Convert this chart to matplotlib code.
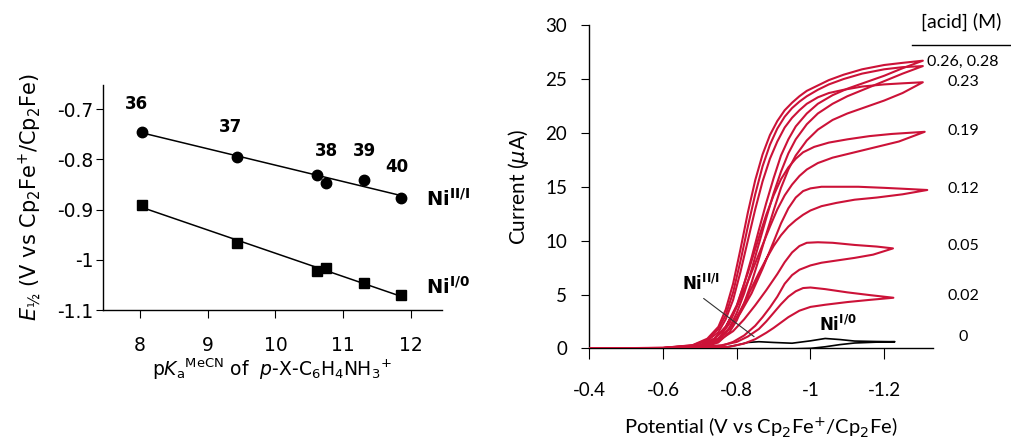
import numpy as np
import matplotlib.pyplot as plt

plt.rcParams['mathtext.fontset'] = 'dejavusans'

# ---- left panel: E1/2 vs pKa ----
pka = [8.03, 9.43, 10.62, 10.75, 11.31, 11.86]
e_nii_i = [-0.745, -0.795, -0.831, -0.846, -0.841, -0.876]
e_ni_i0 = [-0.891, -0.967, -1.022, -1.017, -1.047, -1.070]
cmpd_labels = ['36', '37', '38', '39', '40']
cmpd_x = [7.95, 9.34, 10.75, 11.32, 11.79]
cmpd_y = [-0.689, -0.735, -0.784, -0.784, -0.815]
left_yticks = [-0.7, -0.8, -0.9, -1.0, -1.1]
left_yticklabels = ['-0.7', '-0.8', '-0.9', '-1', '-1.1']

# ---- right panel: CVs (forward sweep then return sweep) ----
v_fwd_hi = [-0.40, -0.60, -0.68, -0.72, -0.75, -0.77, -0.79, -0.81, -0.83, -0.85, -0.87, -0.89,
            -0.91, -0.93, -0.95, -0.97, -0.99, -1.02, -1.05, -1.09, -1.14, -1.20, -1.25, -1.305]
v_rev_hi = [-1.305, -1.25, -1.20, -1.15, -1.10, -1.06, -1.02, -0.99, -0.96, -0.94, -0.92, -0.90,
            -0.88, -0.86, -0.84, -0.82, -0.80, -0.78, -0.75, -0.72, -0.68, -0.60, -0.40]
i28_fwd = [0, 0.05, 0.3, 0.9, 2.0, 3.6, 6.0, 9.2, 12.6, 15.6, 18.0, 19.8,
           21.1, 22.1, 22.8, 23.4, 23.9, 24.4, 24.9, 25.4, 25.9, 26.3, 26.5, 26.7]
i28_rev = [26.7, 26.0, 25.3, 24.7, 24.1, 23.5, 22.7, 21.8, 20.6, 19.4, 17.9, 15.8,
           13.5, 11.0, 8.4, 6.0, 3.9, 2.3, 0.9, 0.35, 0.12, 0.03, 0.0]
i26_fwd = [0, 0.05, 0.28, 0.8, 1.8, 3.1, 5.2, 8.1, 11.3, 14.3, 16.9, 18.9,
           20.4, 21.5, 22.3, 22.9, 23.4, 24.0, 24.5, 25.0, 25.5, 25.9, 26.1, 26.2]
i26_rev = [26.2, 25.5, 24.8, 24.1, 23.4, 22.7, 21.8, 20.8, 19.4, 18.1, 16.4, 14.4,
           12.1, 9.7, 7.3, 5.1, 3.3, 1.9, 0.75, 0.3, 0.1, 0.03, 0.0]
i23_fwd = [0, 0.04, 0.25, 0.7, 1.5, 2.7, 4.5, 7.1, 10.0, 12.9, 15.5, 17.6,
           19.2, 20.5, 21.4, 22.1, 22.7, 23.3, 23.7, 24.0, 24.3, 24.5, 24.6, 24.7]
i23_rev = [24.7, 23.7, 23.0, 22.4, 21.8, 21.2, 20.3, 19.3, 17.9, 16.6, 14.9, 12.8,
           10.6, 8.3, 6.1, 4.2, 2.6, 1.5, 0.55, 0.22, 0.08, 0.02, 0.0]

v19_fwd = [-0.40, -0.60, -0.70, -0.74, -0.77, -0.80, -0.83, -0.86, -0.88, -0.90,
           -0.92, -0.94, -0.96, -0.98, -1.01, -1.05, -1.10, -1.16, -1.22, -1.31]
i19_fwd = [0, 0.04, 0.3, 0.9, 2.0, 4.0, 7.0, 10.3, 12.4, 14.2,
           15.7, 16.8, 17.6, 18.2, 18.7, 19.1, 19.4, 19.7, 19.9, 20.1]
v19_rev = [-1.31, -1.24, -1.18, -1.12, -1.06, -1.02, -0.99, -0.97, -0.95, -0.93, -0.91,
           -0.89, -0.87, -0.85, -0.83, -0.81, -0.79, -0.77, -0.74, -0.70, -0.60, -0.40]
i19_rev = [20.1, 19.2, 18.7, 18.2, 17.7, 17.2, 16.6, 16.0, 15.2, 14.2, 12.9,
           11.3, 9.6, 7.9, 6.2, 4.6, 3.2, 2.0, 0.9, 0.15, 0.02, 0.0]

v12_fwd = [-0.40, -0.60, -0.70, -0.75, -0.78, -0.81, -0.84, -0.87, -0.90, -0.92,
           -0.94, -0.96, -0.98, -1.00, -1.03, -1.07, -1.13, -1.20, -1.26, -1.317]
i12_fwd = [0, 0.03, 0.25, 0.9, 1.8, 3.3, 5.1, 7.4, 9.9, 11.6,
           13.0, 14.0, 14.6, 14.85, 15.0, 15.0, 15.0, 14.9, 14.8, 14.7]
v12_rev = [-1.317, -1.25, -1.18, -1.12, -1.07, -1.03, -1.00, -0.98, -0.96, -0.94, -0.92,
           -0.90, -0.88, -0.86, -0.84, -0.82, -0.80, -0.77, -0.73, -0.65, -0.40]
i12_rev = [14.7, 14.3, 14.0, 13.8, 13.5, 13.2, 12.8, 12.4, 11.9, 11.3, 10.5,
           9.5, 8.3, 7.0, 5.6, 4.2, 2.9, 1.4, 0.35, 0.03, 0.0]

v05_fwd = [-0.40, -0.60, -0.70, -0.75, -0.79, -0.82, -0.85, -0.88, -0.91,
           -0.93, -0.95, -0.97, -0.99, -1.02, -1.06, -1.12, -1.18, -1.224]
i05_fwd = [0, 0.03, 0.2, 0.7, 1.6, 2.7, 4.0, 5.4, 6.9,
           8.0, 8.9, 9.5, 9.8, 9.85, 9.8, 9.6, 9.45, 9.28]
v05_rev = [-1.224, -1.17, -1.12, -1.07, -1.03, -1.00, -0.97, -0.95, -0.93, -0.91,
           -0.89, -0.87, -0.85, -0.82, -0.79, -0.76, -0.72, -0.65, -0.40]
i05_rev = [9.28, 8.7, 8.4, 8.15, 7.95, 7.7, 7.3, 6.8, 6.0, 4.8,
           3.8, 2.9, 2.1, 1.2, 0.6, 0.25, 0.08, 0.02, 0.0]

v02_fwd = [-0.40, -0.60, -0.70, -0.76, -0.80, -0.83, -0.86, -0.88, -0.90,
           -0.92, -0.94, -0.96, -0.98, -1.00, -1.04, -1.10, -1.16, -1.225]
i02_fwd = [0, 0.02, 0.12, 0.3, 0.6, 1.1, 1.8, 2.5, 3.3,
           4.1, 4.8, 5.3, 5.6, 5.65, 5.5, 5.2, 4.95, 4.7]
v02_rev = [-1.225, -1.16, -1.10, -1.04, -1.00, -0.97, -0.94, -0.92,
           -0.90, -0.88, -0.85, -0.82, -0.78, -0.72, -0.60, -0.40]
i02_rev = [4.7, 4.5, 4.3, 4.05, 3.85, 3.5, 2.9, 2.4,
           1.9, 1.45, 0.85, 0.45, 0.15, 0.04, 0.0, 0.0]

v00_fwd = [-0.40, -0.60, -0.70, -0.76, -0.80, -0.83, -0.86, -0.90, -0.95, -1.00, -1.04, -1.08, -1.12, -1.18, -1.229]
i00_fwd = [0.05, 0.03, 0.02, 0.05, 0.3, 0.55, 0.62, 0.55, 0.48, 0.7, 0.92, 0.82, 0.68, 0.64, 0.62]
v00_rev = [-1.229, -1.18, -1.12, -1.08, -1.04, -1.00, -0.95, -0.90, -0.85, -0.81, -0.78, -0.74, -0.70, -0.60, -0.40]
i00_rev = [0.62, 0.58, 0.5, 0.35, 0.15, 0.0, -0.05, -0.1, -0.25, -0.4, -0.3, -0.1, 0.0, 0.02, 0.05]

acid_labels = ['0.26, 0.28', '0.23', '0.19', '0.12', '0.05', '0.02', '0']
acid_label_y = [26.56, 24.7, 20.16, 14.78, 9.49, 4.85, 1.05]
right_xticks = [-0.4, -0.6, -0.8, -1.0, -1.2]
right_xticklabels = ['-0.4', '-0.6', '-0.8', '-1', '-1.2']

red = '#cc1238'

fig = plt.figure(figsize=(10.11, 4.41), dpi=100)

# left
ax1 = fig.add_axes([0.102, 0.297, 0.335, 0.510])
for ys, mk in [(e_nii_i, 'o'), (e_ni_i0, 's')]:
    k, b = np.polyfit(pka, ys, 1)
    xx = np.array([pka[0], pka[-1]])
    ax1.plot(xx, k * xx + b, color='black', lw=1.1)
    ax1.plot(pka, ys, mk, color='black', ms=7.5 if mk == 'o' else 7)
for lab, x, y in zip(cmpd_labels, cmpd_x, cmpd_y):
    ax1.text(x, y, lab, ha='center', va='center', fontsize=12, fontweight='bold')
ax1.text(12.22, -0.878, r'$\mathbf{Ni^{II/I}}$', ha='left', va='center', fontsize=14, clip_on=False)
ax1.text(12.22, -1.054, r'$\mathbf{Ni^{I/0}}$', ha='left', va='center', fontsize=14, clip_on=False)
ax1.set_xlim(7.454, 12.458)
ax1.set_ylim(-1.1, -0.652)
ax1.set_xticks([8, 9, 10, 11, 12])
ax1.set_yticks(left_yticks)
ax1.set_yticklabels(left_yticklabels)
ax1.tick_params(axis='x', direction='out', length=6, pad=13, labelsize=13.5)
ax1.tick_params(axis='y', direction='out', length=5, pad=2, labelsize=13.5)
for s in ['top', 'right']:
    ax1.spines[s].set_visible(False)
for s in ['left', 'bottom']:
    ax1.spines[s].set_linewidth(1.0)
ax1.set_ylabel(r'$E_{½}$ (V vs Cp$_2$Fe$^{+}$/Cp$_2$Fe)', fontsize=15, labelpad=10)
ax1.set_xlabel(r'p$K_{\rm a}$$^{\rm MeCN}$ of  $p$-X-C$_6$H$_4$NH$_3$$^{+}$', fontsize=13.5, labelpad=1)

# right
ax2 = fig.add_axes([0.583, 0.210, 0.340, 0.733])
red_curves = [
    (v_fwd_hi, i28_fwd, v_rev_hi, i28_rev),
    (v_fwd_hi, i26_fwd, v_rev_hi, i26_rev),
    (v_fwd_hi, i23_fwd, v_rev_hi, i23_rev),
    (v19_fwd, i19_fwd, v19_rev, i19_rev),
    (v12_fwd, i12_fwd, v12_rev, i12_rev),
    (v05_fwd, i05_fwd, v05_rev, i05_rev),
    (v02_fwd, i02_fwd, v02_rev, i02_rev),
]
ax2.plot(v00_fwd + v00_rev, i00_fwd + i00_rev, color='black', lw=1.2, zorder=2)
for vf, i_f, vr, i_r in red_curves:
    ax2.plot(vf + vr, i_f + i_r, color=red, lw=1.5, zorder=3, solid_joinstyle='round')

ax2.set_xlim(-0.4, -1.333)
ax2.set_ylim(0, 30)
ax2.set_xticks(right_xticks)
ax2.set_xticklabels(right_xticklabels)
ax2.set_yticks([0, 5, 10, 15, 20, 25, 30])
ax2.tick_params(axis='x', direction='out', length=8, pad=16, labelsize=13.5)
ax2.tick_params(axis='y', direction='out', length=6, pad=10, labelsize=13.5)
for s in ['top', 'right']:
    ax2.spines[s].set_visible(False)
for s in ['left', 'bottom']:
    ax2.spines[s].set_linewidth(1.0)
for lbl in ax2.get_xticklabels() + ax2.get_yticklabels():
    lbl.set_family('Lato')
ax2.set_ylabel(r'Current ($\mu$A)', fontsize=15, family='Lato', labelpad=10)
ax2.set_xlabel(r'Potential (V vs Cp$_2$Fe$^{+}$/Cp$_2$Fe)', fontsize=14.5, family='Lato', labelpad=12)

tr = ax2.get_yaxis_transform()
for lab, y in zip(acid_labels, acid_label_y):
    ax2.text(1.087, y, lab, transform=tr, ha='center', va='center', fontsize=11.5, family='Lato')
ax2.text(1.083, 1.01, '[acid] (M)', transform=ax2.transAxes, ha='center', va='center', fontsize=14, family='Lato')
ax2.plot([0.939, 1.23], [0.938, 0.938], transform=ax2.transAxes, color='black', lw=1.0, clip_on=False)

ax2.annotate('', xy=(-0.853, 0.93), xytext=(-0.704, 4.79),
             arrowprops=dict(arrowstyle='-', color='#333333', lw=0.8))
ax2.text(-0.702, 5.94, r'$\mathbf{Ni^{II/I}}$', ha='center', va='center', fontsize=12)
ax2.text(-1.075, 2.16, r'$\mathbf{Ni^{I/0}}$', ha='center', va='center', fontsize=12)

fig.savefig('out.png', dpi=100)
